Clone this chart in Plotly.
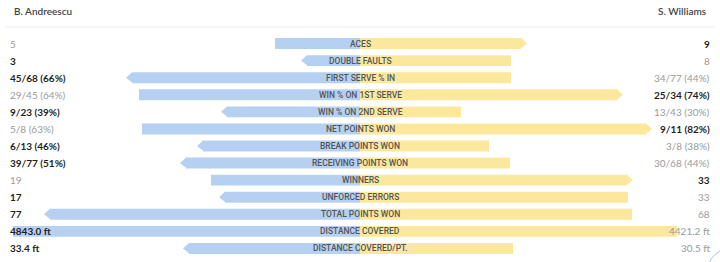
import plotly.graph_objects as go

# ---------------- data ----------------
categories = ["ACES", "DOUBLE FAULTS", "FIRST SERVE % IN", "WIN % ON 1ST SERVE",
              "WIN % ON 2ND SERVE", "NET POINTS WON", "BREAK POINTS WON",
              "RECEIVING POINTS WON", "WINNERS", "UNFORCED ERRORS",
              "TOTAL POINTS WON", "DISTANCE COVERED", "DISTANCE COVERED/PT."]
player_left = "B. Andreescu"
player_right = "S. Williams"
left_labels = ["5", "3", "45/68 (66%)", "29/45 (64%)", "9/23 (39%)", "5/8 (63%)",
               "6/13 (46%)", "39/77 (51%)", "19", "17", "77", "4843.0 ft", "33.4 ft"]
right_labels = ["9", "8", "34/77 (44%)", "25/34 (74%)", "13/43 (30%)", "9/11 (82%)",
                "3/8 (38%)", "30/68 (44%)", "33", "33", "68", "4421.2 ft", "30.5 ft"]
# bar lengths (relative scale)
left_len = [85, 53, 228, 221, 133, 218, 157, 174, 149, 135, 310, 347, 171]
right_len = [161, 151, 151, 257, 101, 286, 129, 150, 267, 268, 272, 317, 153]
# row winner: "L", "R" or "" (which side is highlighted)
winner = ["R", "L", "L", "R", "L", "R", "L", "L", "R", "L", "L", "", "L"]
left_bold = [False, True, True, False, True, False, True, True, False, True, True, True, True]
right_bold = [True, False, False, True, False, True, False, False, True, False, False, False, False]

BLUE = "#b6d0f1"
YELLOW = "#fce89c"
ROWS = list(range(len(categories)))
BW = 0.64
TIP = 6

fig = go.Figure()
fig.add_trace(go.Bar(y=ROWS, x=[-v for v in left_len], base=0, orientation="h",
                     width=BW, marker=dict(color=BLUE, line=dict(width=0)),
                     hoverinfo="skip", showlegend=False))
fig.add_trace(go.Bar(y=ROWS, x=right_len, base=0, orientation="h",
                     width=BW, marker=dict(color=YELLOW, line=dict(width=0)),
                     hoverinfo="skip", showlegend=False))

# arrow tips on the winner side
for side, color in (("L", BLUE), ("R", YELLOW)):
    xs, ys = [], []
    for i in ROWS:
        if winner[i] != side:
            continue
        sgn = -1 if side == "L" else 1
        end = sgn * (left_len[i] if side == "L" else right_len[i])
        xs += [end - sgn * 1, end, end + sgn * TIP, end, end - sgn * 1, None]
        ys += [i - BW / 2, i - BW / 2, i, i + BW / 2, i + BW / 2, None]
    fig.add_trace(go.Scatter(x=xs, y=ys, mode="lines", fill="toself", fillcolor=color,
                             line=dict(width=0, color=color), hoverinfo="skip",
                             showlegend=False))

annotations = []
for i in ROWS:
    annotations.append(dict(x=0, y=i, xref="x", yref="y", text=categories[i],
                            showarrow=False, xanchor="center", yanchor="middle",
                            font=dict(family="Roboto", size=8.5, color="#555555", weight=500)))
    annotations.append(dict(x=0.011, y=i, xref="paper", yref="y",
                            text=(f"<b>{left_labels[i]}</b>" if left_bold[i] else left_labels[i]),
                            showarrow=False, xanchor="left", yanchor="middle",
                            font=dict(family="Lato", size=10,
                                      color="#1f1f1f" if left_bold[i] else "#9a9a9a")))
    annotations.append(dict(x=0.989, y=i, xref="paper", yref="y",
                            text=(f"<b>{right_labels[i]}</b>" if right_bold[i] else right_labels[i]),
                            showarrow=False, xanchor="right", yanchor="middle",
                            font=dict(family="Lato", size=10,
                                      color="#1f1f1f" if right_bold[i] else "#9a9a9a")))

annotations.append(dict(x=0.016, y=1.106, xref="paper", yref="paper", text=player_left,
                        showarrow=False, xanchor="left", yanchor="middle",
                        font=dict(family="Lato", size=10, color="#444444", weight=600)))
annotations.append(dict(x=0.985, y=1.106, xref="paper", yref="paper", text=player_right,
                        showarrow=False, xanchor="right", yanchor="middle",
                        font=dict(family="Lato", size=10, color="#444444", weight=600)))

fig.update_layout(
    width=720, height=262,
    margin=dict(l=0, r=0, t=35, b=5),
    paper_bgcolor="white", plot_bgcolor="white",
    barmode="overlay",
    xaxis=dict(range=[-360, 360], visible=False, fixedrange=True),
    yaxis=dict(range=[12.5, -0.5], visible=False, fixedrange=True),
    annotations=annotations,
    shapes=[
        dict(type="line", xref="paper", yref="paper", x0=0.007, x1=0.993,
             y0=1.0365, y1=1.0365, line=dict(color="#efefef", width=1)),
        dict(type="circle", xref="paper", yref="paper", x0=0.982, x1=1.05,
             y0=-0.18, y1=0.04, line=dict(color="#a9c3e6", width=1)),
    ],
)

fig.write_html("out.html")
